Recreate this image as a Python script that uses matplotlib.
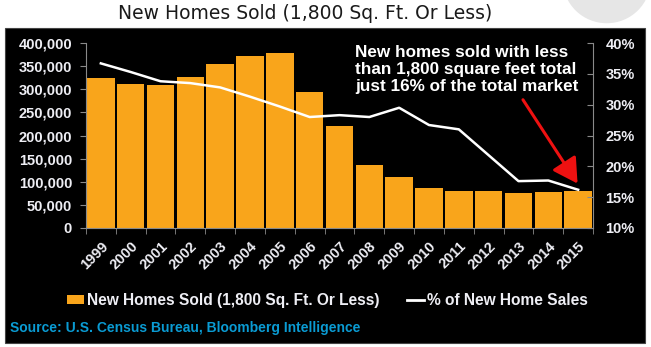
import numpy as np
import matplotlib
matplotlib.use('Agg')
import matplotlib.pyplot as plt
from matplotlib.patches import Rectangle, Ellipse, Patch
from matplotlib.lines import Line2D
from matplotlib.ticker import FuncFormatter

# data
years = ['1999', '2000', '2001', '2002', '2003', '2004', '2005', '2006', '2007',
         '2008', '2009', '2010', '2011', '2012', '2013', '2014', '2015']
homes_sold = [325000, 311000, 309000, 326000, 355000, 371000, 378000, 295000, 221000,
              137000, 110000, 86000, 80000, 80000, 75000, 78000, 81000]
pct_sales = [36.7, 35.3, 33.8, 33.5, 32.8, 31.3, 29.7, 28.0, 28.3,
             28.0, 29.5, 26.7, 26.0, 21.8, 17.6, 17.7, 16.2]

left_ticks = [0, 50000, 100000, 150000, 200000, 250000, 300000, 350000, 400000]
right_ticks = [10, 15, 20, 25, 30, 35, 40]

bar_color = '#F9A51B'
label_color = '#EEEEF4'
axis_gray = '#8a8a8a'
font = ['Liberation Sans', 'DejaVu Sans']

fig = plt.figure(figsize=(6.51, 3.47), dpi=100)
fig.patch.set_facecolor('white')

# grey decoration top right and black panel (behind the axes)
fig.patches.append(Ellipse((0.932, 1.058), 0.135, 0.25, transform=fig.transFigure,
                           facecolor='#e6e6e6', edgecolor='none', zorder=-2))
fig.patches.append(Rectangle((0.0077, 0.0115), 0.983, 0.908, transform=fig.transFigure,
                             facecolor='black', edgecolor='#444444', lw=0.8, zorder=-1))

fig.text(0.468, 0.962, 'New Homes Sold (1,800 Sq. Ft. Or Less)', ha='center', va='center',
         fontsize=13.5, color='#1a1a1a', family='DejaVu Sans')

ax = fig.add_axes([0.132, 0.343, 0.779, 0.533])
ax.set_facecolor('none')
x = np.arange(len(years))
ax.bar(x, homes_sold, width=0.92, color=bar_color, zorder=2)
ax.set_xlim(-0.5, len(years) - 0.5)
ax.set_ylim(0, 400000)
ax.set_yticks(left_ticks)
ax.yaxis.set_major_formatter(FuncFormatter(lambda v, p: '{:,.0f}'.format(v)))
ax.set_xticks(x)
ax.set_xticklabels(years, rotation=45, ha='right', rotation_mode='anchor')
ax.set_xticks(np.arange(-0.5, len(years), 1.0), minor=True)
ax.tick_params(axis='x', which='major', length=0, pad=8)
ax.tick_params(axis='x', which='minor', length=4, color=axis_gray, direction='out')
ax.tick_params(axis='y', length=4, color=axis_gray, direction='out', pad=6)
for lab in ax.get_xticklabels() + ax.get_yticklabels():
    lab.set_family(font)
    lab.set_fontweight('bold')
    lab.set_color(label_color)
    lab.set_fontsize(10.5)
for s in ['top', 'right']:
    ax.spines[s].set_visible(False)
ax.spines['left'].set_color(axis_gray)
ax.spines['bottom'].set_color(axis_gray)

ax2 = ax.twinx()
ax2.plot(x, pct_sales, color='white', lw=1.8, zorder=3)
ax2.set_ylim(10, 40)
ax2.set_yticks(right_ticks)
ax2.set_yticklabels([str(t) + '%' for t in right_ticks])
ax2.tick_params(axis='y', length=4, color=axis_gray, direction='in', pad=9)
for lab in ax2.get_yticklabels():
    lab.set_family(font)
    lab.set_fontweight('bold')
    lab.set_color(label_color)
    lab.set_fontsize(10.5)
for s in ['top', 'left', 'bottom']:
    ax2.spines[s].set_visible(False)
ax2.spines['right'].set_color(axis_gray)

# callout text and arrow
fig.text(0.545, 0.80, 'New homes sold with less\nthan 1,800 square feet total\njust 16% of the total market',
         ha='left', va='center', color='white', fontsize=12.3, fontweight='bold',
         family=font, linespacing=1.15)
ax2.annotate('', xy=(15.98, 17.2), xytext=(14.15, 30.8),
             arrowprops=dict(arrowstyle='-|>,head_length=1.5,head_width=0.85',
                             mutation_scale=10, color='#ee1111', lw=2.2,
                             shrinkA=0, shrinkB=0))

# legend
handles = [Patch(facecolor=bar_color, edgecolor='none'),
           Line2D([0], [0], color='white', lw=2)]
leg = fig.legend(handles, ['New Homes Sold (1,800 Sq. Ft. Or Less)', '% of New Home Sales'],
                 loc='center', bbox_to_anchor=(0.503, 0.135), ncol=2, frameon=False,
                 handlelength=1.1, handleheight=0.5, handletextpad=0.15, columnspacing=1.8,
                 prop={'family': font, 'weight': 'bold', 'size': 11.2})
for t in leg.get_texts():
    t.set_color(label_color)

fig.text(0.016, 0.055, 'Source: U.S. Census Bureau, Bloomberg Intelligence', ha='left', va='center',
         color='#0a9bd3', fontsize=10, fontweight='bold', family=font)

fig.savefig('out.png', dpi=100, facecolor='white')
